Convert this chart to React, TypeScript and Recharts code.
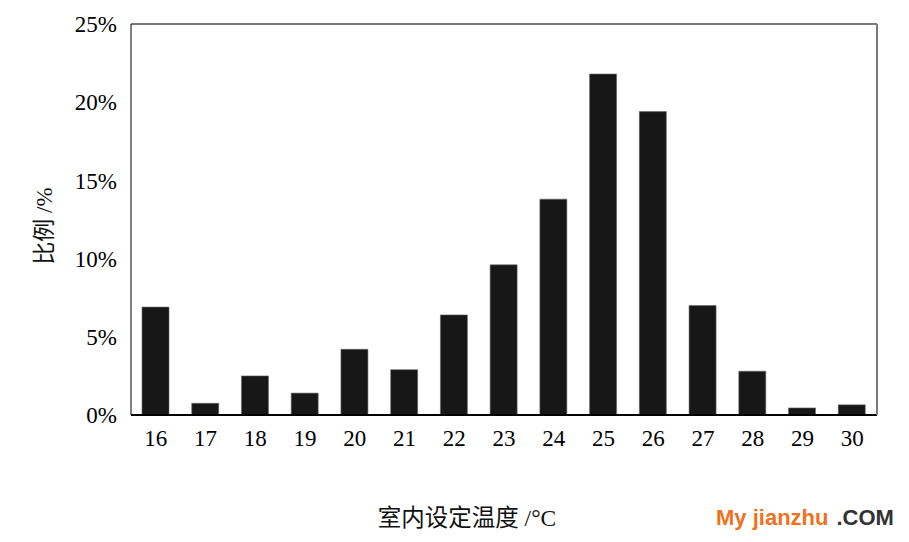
import { Bar, BarChart, Label, ReferenceLine, XAxis, YAxis } from "recharts";

const temps = ["16", "17", "18", "19", "20", "21", "22", "23", "24", "25", "26", "27", "28", "29", "30"];
const shares = [6.9, 0.75, 2.5, 1.4, 4.2, 2.9, 6.4, 9.6, 13.8, 21.8, 19.4, 7.0, 2.8, 0.45, 0.65];
const yTicks = [0, 5, 10, 15, 20, 25];

const data = temps.map((t, i) => ({ temp: t, share: shares[i] }));

const serif = '"Liberation Serif", "Times New Roman", "Noto Sans CJK SC", serif';

const YTitle = () => {
  const cx = 44;
  const cy = 226;
  return (
    <text
      x={cx}
      y={cy}
      transform={`rotate(-90, ${cx}, ${cy})`}
      textAnchor="middle"
      dominantBaseline="central"
      fontFamily={serif}
      fontSize={23}
      fill="#111"
    >
      比例 /%
    </text>
  );
};

const XTitle = () => (
  <text
    x={467}
    y={518}
    textAnchor="middle"
    dominantBaseline="central"
    fontFamily={serif}
    fontSize={23.5}
    fill="#111"
  >
    室内设定温度 /°C
  </text>
);

export default function App() {
  return (
    <div style={{ position: "absolute", left: 0, top: 0, width: 909, height: 542, background: "#fff" }}>
      <BarChart
        width={909}
        height={542}
        data={data}
        margin={{ top: 24, right: 31, left: 0, bottom: 27 }}
        barSize={27}
      >
        <XAxis
          dataKey="temp"
          height={100}
          axisLine={{ stroke: "#000", strokeWidth: 2 }}
          tickLine={false}
          tickMargin={9}
          tick={{ fontSize: 23, fill: "#000", fontFamily: serif }}
          interval={0}
        >
          <Label content={<XTitle />} />
        </XAxis>
        <YAxis
          yAxisId="left"
          width={131}
          domain={[0, 25]}
          ticks={yTicks}
          tickFormatter={(v) => `${v}%`}
          axisLine={{ stroke: "#000", strokeWidth: 1 }}
          tickLine={false}
          tickMargin={8}
          tick={{ fontSize: 23, fill: "#000", fontFamily: serif }}
        >
          <Label content={<YTitle />} />
        </YAxis>
        <YAxis
          yAxisId="right"
          orientation="right"
          width={1}
          domain={[0, 25]}
          ticks={yTicks}
          tick={false}
          tickLine={false}
          axisLine={{ stroke: "#7a7a7a", strokeWidth: 2 }}
        />
        <ReferenceLine yAxisId="left" y={25} stroke="#7a7a7a" strokeWidth={2} />
        <Bar
          yAxisId="left"
          dataKey="share"
          fill="#171717"
          stroke="#666"
          strokeWidth={0.6}
          isAnimationActive={false}
        />
      </BarChart>
      <div
        style={{
          position: "absolute",
          left: 716,
          top: 505,
          fontFamily: '"Liberation Sans", Arial, sans-serif',
          fontWeight: "bold",
          fontSize: 22,
          whiteSpace: "nowrap",
          lineHeight: "26px",
        }}
      >
        <span style={{ color: "#f07121" }}>My jianzhu</span>
        <span style={{ color: "#333", marginLeft: 8 }}>.COM</span>
      </div>
    </div>
  );
}
